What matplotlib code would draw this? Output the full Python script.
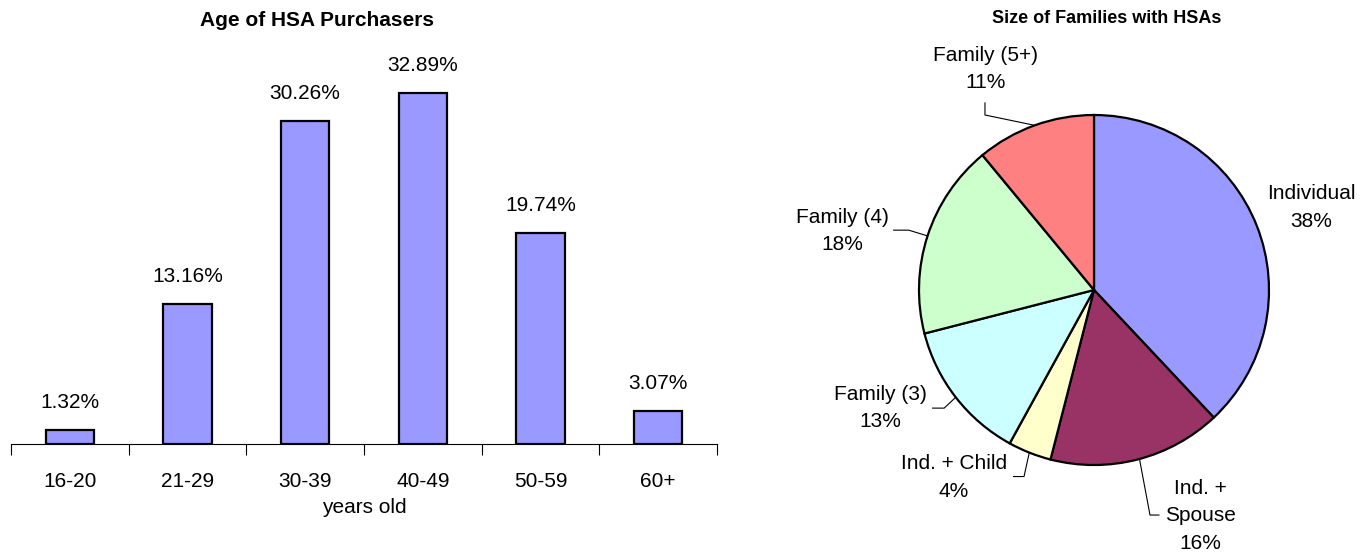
import matplotlib.pyplot as plt

plt.rcParams['font.family'] = ['Liberation Sans', 'DejaVu Sans']

# =========================
# DATA
# =========================
age_groups = ["16-20", "21-29", "30-39", "40-49", "50-59", "60+"]
age_pct = [1.32, 13.16, 30.26, 32.89, 19.74, 3.07]

family_types = ["Individual", "Ind. +\nSpouse", "Ind. + Child",
                "Family (3)", "Family (4)", "Family (5+)"]
family_pct = [38, 16, 4, 13, 18, 11]
family_colors = ["#9999FF", "#993366", "#FFFFCC", "#CCFFFF", "#CCFFCC", "#FF8080"]

W, H = 1371, 556
fig = plt.figure(figsize=(W / 100, H / 100), dpi=100)

# =========================
# BAR CHART
# =========================
ax = fig.add_axes([11 / W, 112 / H, 706 / W, 383 / H])
x = range(len(age_groups))
ax.bar(x, age_pct, width=0.41, color="#9999FF", edgecolor="black", linewidth=1.6)
for i, v in zip(x, age_pct):
    ax.annotate(f"{v:.2f}%", (i, v), xytext=(0, 13), textcoords="offset points",
                ha="center", va="bottom", fontsize=15)
ax.set_xlim(-0.5, len(age_groups) - 0.5)
ax.set_ylim(0, 35.9)
for s in ["top", "right", "left"]:
    ax.spines[s].set_visible(False)
ax.spines["bottom"].set_linewidth(0.8)
ax.set_yticks([])
ax.set_xticks(list(x))
ax.set_xticklabels(age_groups, fontsize=15)
ax.set_xticks([i - 0.5 for i in range(len(age_groups) + 1)], minor=True)
ax.tick_params(axis="x", which="major", length=0, pad=20)
ax.tick_params(axis="x", which="minor", length=8, width=0.8, direction="out")
ax.set_xlabel("years old", fontsize=15, labelpad=5)
fig.text(317 / W, 1 - 20 / H, "Age of HSA Purchasers", ha="center", va="center",
         fontsize=15, fontweight="bold")

# =========================
# PIE CHART
# =========================
R = 175.0
cx, cy = 1094, 290
left = 760
pax = fig.add_axes([left / W, 0, (W - left) / W, 1])
pax.pie(family_pct, colors=family_colors, startangle=90, counterclock=False,
        wedgeprops=dict(edgecolor="black", linewidth=1.6))
pax.set_xlim(-(cx - left) / R, (W - cx) / R)
pax.set_ylim(-(H - cy) / R, cy / R)

label_pos = [(1.24, 0.47), (0.61, -1.29), (-0.80, -1.07),
             (-1.22, -0.675), (-1.44, 0.336), (-0.62, 1.263)]
leaders = [None,
           [(0.26, -0.966), (0.32, -1.286), (0.371, -1.286)],
           [(-0.37, -0.93), (-0.40, -1.066), (-0.46, -1.066)],
           [(-0.79, -0.613), (-0.856, -0.675), (-0.922, -0.675)],
           [(-0.951, 0.309), (-1.059, 0.342), (-1.145, 0.342)],
           [(-0.339, 0.941), (-0.623, 1.0), (-0.623, 1.069)]]
for name, pct, (lx, ly), ld in zip(family_types, family_pct, label_pos, leaders):
    pax.text(lx, ly, f"{name}\n{pct}%", ha="center", va="center",
             fontsize=15, linespacing=1.57)
    if ld:
        pax.plot([p[0] for p in ld], [p[1] for p in ld], color="black", lw=0.8)

pax.text(0.07, 1.55, "Size of Families with HSAs", ha="center", va="center",
         fontsize=13, fontweight="bold")

fig.savefig("out.png", dpi=100)
